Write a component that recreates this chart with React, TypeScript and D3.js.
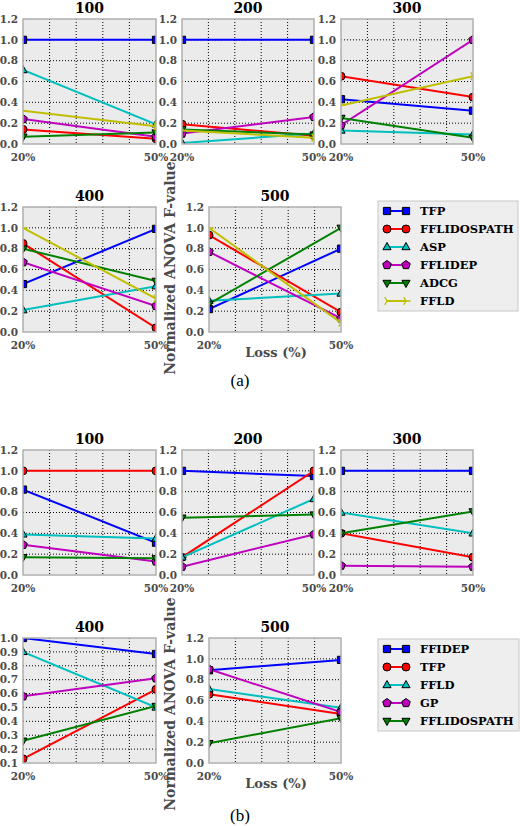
import React from "react";
import * as d3 from "d3";

// ---------- data ----------
const lossLevels = [20, 50];
const lossTickLabels = ["20%", "50%"];
const lossGridTicks = [26, 32, 38, 44];
const nodeCounts = ["100", "200", "300", "400", "500"];
const yTicksDefault = [0, 0.2, 0.4, 0.6, 0.8, 1.0, 1.2];
const yTicksB400 = [0.1, 0.2, 0.3, 0.4, 0.5, 0.6, 0.7, 0.8, 0.9, 1.0];

// (a) values per panel (100..500): [at 20%, at 50%]
const seriesNamesA = ["TFP", "FFLIDOSPATH", "ASP", "FFLIDEP", "ADCG", "FFLD"];
const aTFP = [[1.0, 1.0], [1.0, 1.0], [0.43, 0.32], [0.46, 0.99], [0.22, 0.8]];
const aFFLIDOSPATH = [[0.14, 0.05], [0.19, 0.08], [0.65, 0.45], [0.85, 0.04], [0.93, 0.19]];
const aASP = [[0.71, 0.19], [0.01, 0.1], [0.13, 0.09], [0.21, 0.44], [0.3, 0.37]];
const aFFLIDEP = [[0.24, 0.07], [0.1, 0.26], [0.18, 1.0], [0.67, 0.25], [0.77, 0.13]];
const aADCG = [[0.07, 0.11], [0.14, 0.09], [0.25, 0.06], [0.8, 0.49], [0.27, 1.0]];
const aFFLD = [[0.32, 0.17], [0.13, 0.06], [0.37, 0.65], [1.0, 0.32], [1.0, 0.09]];

// (b)
const seriesNamesB = ["FFIDEP", "TFP", "FFLD", "GP", "FFLIDOSPATH"];
const bFFIDEP = [[0.82, 0.31], [1.0, 0.95], [1.0, 1.0], [1.0, 0.885], [0.89, 0.99]];
const bTFP = [[1.0, 1.0], [0.17, 1.0], [0.4, 0.17], [0.13, 0.63], [0.66, 0.47]];
const bFFLD = [[0.39, 0.35], [0.17, 0.73], [0.6, 0.4], [0.9, 0.5], [0.71, 0.53]];
const bGP = [[0.29, 0.13], [0.08, 0.39], [0.09, 0.08], [0.58, 0.71], [0.9, 0.49]];
const bFFLIDOSPATH = [[0.17, 0.16], [0.55, 0.58], [0.4, 0.61], [0.26, 0.51], [0.19, 0.43]];

// ---------- styles ----------
const STYLES = [
  { color: "#0000ff", marker: "square" },
  { color: "#ff0000", marker: "circle" },
  { color: "#00bfbf", marker: "triUp" },
  { color: "#bf00bf", marker: "pentagon" },
  { color: "#008000", marker: "triDown" },
  { color: "#bfbf00", marker: "triRight" },
];

const FONT = "'DejaVu Serif', serif";

function markerPath(kind: string): string {
  const r = 4.5;
  if (kind === "square") return "M-3.6,-3.6h7.2v7.2h-7.2z";
  if (kind === "circle") return d3.symbol(d3.symbolCircle, Math.PI * 16)() as string;
  if (kind === "triUp" || kind === "triDown") {
    const s = kind === "triUp" ? 1 : -1;
    return `M0,${-r * s}L${r * 0.9},${r * 0.6 * s}L${-r * 0.9},${r * 0.6 * s}Z`;
  }
  if (kind === "pentagon") {
    const pts = d3.range(5).map((k) => {
      const a = (-90 + 72 * k) * (Math.PI / 180);
      return [r * Math.cos(a), r * Math.sin(a)];
    });
    return "M" + pts.map((p) => p.join(",")).join("L") + "Z";
  }
  // tri_right
  return `M0,0L${r},0M0,0L${-r * 0.5},${-r * 0.87}M0,0L${-r * 0.5},${r * 0.87}`;
}

function Marker({ kind, color, x, y }: { kind: string; color: string; x: number; y: number }) {
  const isLine = kind === "triRight";
  return (
    <path
      d={markerPath(kind)}
      transform={`translate(${x},${y})`}
      fill={isLine ? "none" : color}
      stroke={isLine ? color : "#000"}
      strokeWidth={isLine ? 1.3 : 1}
    />
  );
}

type Panel = {
  id: string;
  title: string;
  xr: [number, number];
  yr: [number, number];
  yDomain: [number, number];
  yTicks: number[];
  series: { name: string; values: number[]; style: number }[];
};

function buildPanels(
  prefix: string,
  rows: [number, number][],
  valueSets: number[][][],
  names: string[]
): Panel[] {
  const cols: [number, number][] = [[23, 156], [182, 314], [341, 473]];
  const row2col1: [number, number] = [209, 341];
  return nodeCounts.map((title, i) => {
    const row = i < 3 ? 0 : 1;
    const col = i < 3 ? i : i - 3;
    const xr = row === 1 && col === 1 ? row2col1 : cols[col];
    const special = prefix === "b" && title === "400";
    return {
      id: `${prefix}${title}`,
      title,
      xr,
      yr: rows[row],
      yDomain: special ? [0.1, 1.0] : [0, 1.2],
      yTicks: special ? yTicksB400 : yTicksDefault,
      series: names.map((name, s) => ({ name, values: valueSets[s][i], style: s })),
    };
  });
}

const panelsA = buildPanels(
  "a",
  [[19, 144], [207, 332]],
  [aTFP, aFFLIDOSPATH, aASP, aFFLIDEP, aADCG, aFFLD],
  seriesNamesA
);
const panelsB = buildPanels(
  "b",
  [[450, 575], [638, 763]],
  [bFFIDEP, bTFP, bFFLD, bGP, bFFLIDOSPATH],
  seriesNamesB
);
const allPanels = [...panelsA, ...panelsB];

function PanelView({ p }: { p: Panel }) {
  const x = d3.scaleLinear().domain([lossLevels[0], lossLevels[1]]).range(p.xr);
  const y = d3.scaleLinear().domain(p.yDomain).range([p.yr[1], p.yr[0]]);
  const line = d3
    .line<[number, number]>()
    .x((d) => x(d[0]))
    .y((d) => y(d[1]));
  const [x0, x1] = p.xr;
  const [y0, y1] = p.yr;
  const fmt = d3.format(".1f");
  return (
    <g>
      <rect x={x0} y={y0} width={x1 - x0} height={y1 - y0} fill="#ebebeb" />
      {lossGridTicks.map((t) => (
        <line key={"vx" + t} x1={x(t)} x2={x(t)} y1={y0} y2={y1} stroke="#000" strokeWidth={1} strokeDasharray="1,2" />
      ))}
      {p.yTicks
        .filter((t) => t > p.yDomain[0] + 1e-6 && t < p.yDomain[1] - 1e-6)
        .map((t) => (
          <line key={"hy" + t} x1={x0} x2={x1} y1={y(t)} y2={y(t)} stroke="#000" strokeWidth={1} strokeDasharray="1,2" />
        ))}
      <g style={{ clipPath: `url(#clip-${p.id})` }}>
        {p.series.map((s) => {
          const st = STYLES[s.style];
          const pts: [number, number][] = lossLevels.map((l, k) => [l, s.values[k]]);
          return (
            <g key={s.name}>
              <path d={line(pts) as string} fill="none" stroke={st.color} strokeWidth={2} />
              {pts.map((d, k) => (
                <Marker key={k} kind={st.marker} color={st.color} x={x(d[0])} y={y(d[1])} />
              ))}
            </g>
          );
        })}
      </g>
      <rect x={x0} y={y0} width={x1 - x0} height={y1 - y0} fill="none" stroke="#b0b0b0" strokeWidth={1.5} />
      {p.yTicks.map((t) => (
        <text
          key={"yl" + t}
          x={x0 - 5}
          y={y(t)}
          dy="0.36em"
          textAnchor="end"
          fontFamily={FONT}
          fontWeight="bold"
          fontSize={10.5}
          fill="#4a4a4a"
        >
          {fmt(t)}
        </text>
      ))}
      {lossLevels.map((l, k) => (
        <text
          key={"xl" + l}
          x={x(l)}
          y={y1 + 13}
          dy="0.36em"
          textAnchor="middle"
          fontFamily={FONT}
          fontWeight="bold"
          fontSize={10.5}
          fill="#4a4a4a"
        >
          {lossTickLabels[k]}
        </text>
      ))}
      <text
        x={(x0 + x1) / 2}
        y={y0 - 6}
        textAnchor="middle"
        fontFamily={FONT}
        fontWeight="bold"
        fontSize={14}
        fill="#000"
      >
        {p.title}
      </text>
    </g>
  );
}

function Legend({ names, x, y, w, step }: { names: string[]; x: number; y: number; w: number; step: number }) {
  const h = step * (names.length - 1) + 20;
  return (
    <g>
      <rect x={x} y={y} width={w} height={h} fill="#eeeeee" stroke="#c8c8c8" strokeWidth={1} />
      {names.map((n, i) => {
        const st = STYLES[i];
        const cy = y + 10 + i * step;
        return (
          <g key={n}>
            <line x1={387} x2={406} y1={cy} y2={cy} stroke={st.color} strokeWidth={2} />
            <Marker kind={st.marker} color={st.color} x={387} y={cy} />
            <Marker kind={st.marker} color={st.color} x={406} y={cy} />
            <text x={420} y={cy} dy="0.36em" fontFamily={FONT} fontWeight="bold" fontSize={11.5} fill="#000">
              {n}
            </text>
          </g>
        );
      })}
    </g>
  );
}

export default function App() {
  return (
    <svg
      width={520}
      height={826}
      viewBox="0 0 520 826"
      style={{ position: "absolute", left: 0, top: 0, background: "#fff" }}
    >
      <defs>
        {allPanels.map((p) => (
          <clipPath key={p.id} id={`clip-${p.id}`}>
            <rect x={p.xr[0]} y={p.yr[0]} width={p.xr[1] - p.xr[0]} height={p.yr[1] - p.yr[0]} />
          </clipPath>
        ))}
      </defs>
      <rect width={520} height={826} fill="#fff" />
      {allPanels.map((p) => (
        <PanelView key={p.id} p={p} />
      ))}
      <Legend names={seriesNamesA} x={378} y={201} w={140} step={18} />
      <Legend names={seriesNamesB} x={378} y={639} w={141} step={18} />
      {[268, 704].map((cy) => (
        <text
          key={cy}
          transform={`translate(170,${cy}) rotate(-90)`}
          textAnchor="middle"
          dy="0.36em"
          fontFamily={FONT}
          fontWeight="bold"
          fontSize={14}
          fill="#4a4a4a"
        >
          Normalized ANOVA F-value
        </text>
      ))}
      {[352, 783].map((cy) => (
        <text
          key={cy}
          x={276}
          y={cy}
          dy="0.36em"
          textAnchor="middle"
          fontFamily={FONT}
          fontWeight="bold"
          fontSize={13}
          fill="#4a4a4a"
        >
          Loss (%)
        </text>
      ))}
      <text x={240} y={386} textAnchor="middle" fontFamily="'Liberation Serif', serif" fontSize={17} fill="#000">
        (a)
      </text>
      <text x={240} y={821} textAnchor="middle" fontFamily="'Liberation Serif', serif" fontSize={17} fill="#000">
        (b)
      </text>
    </svg>
  );
}
